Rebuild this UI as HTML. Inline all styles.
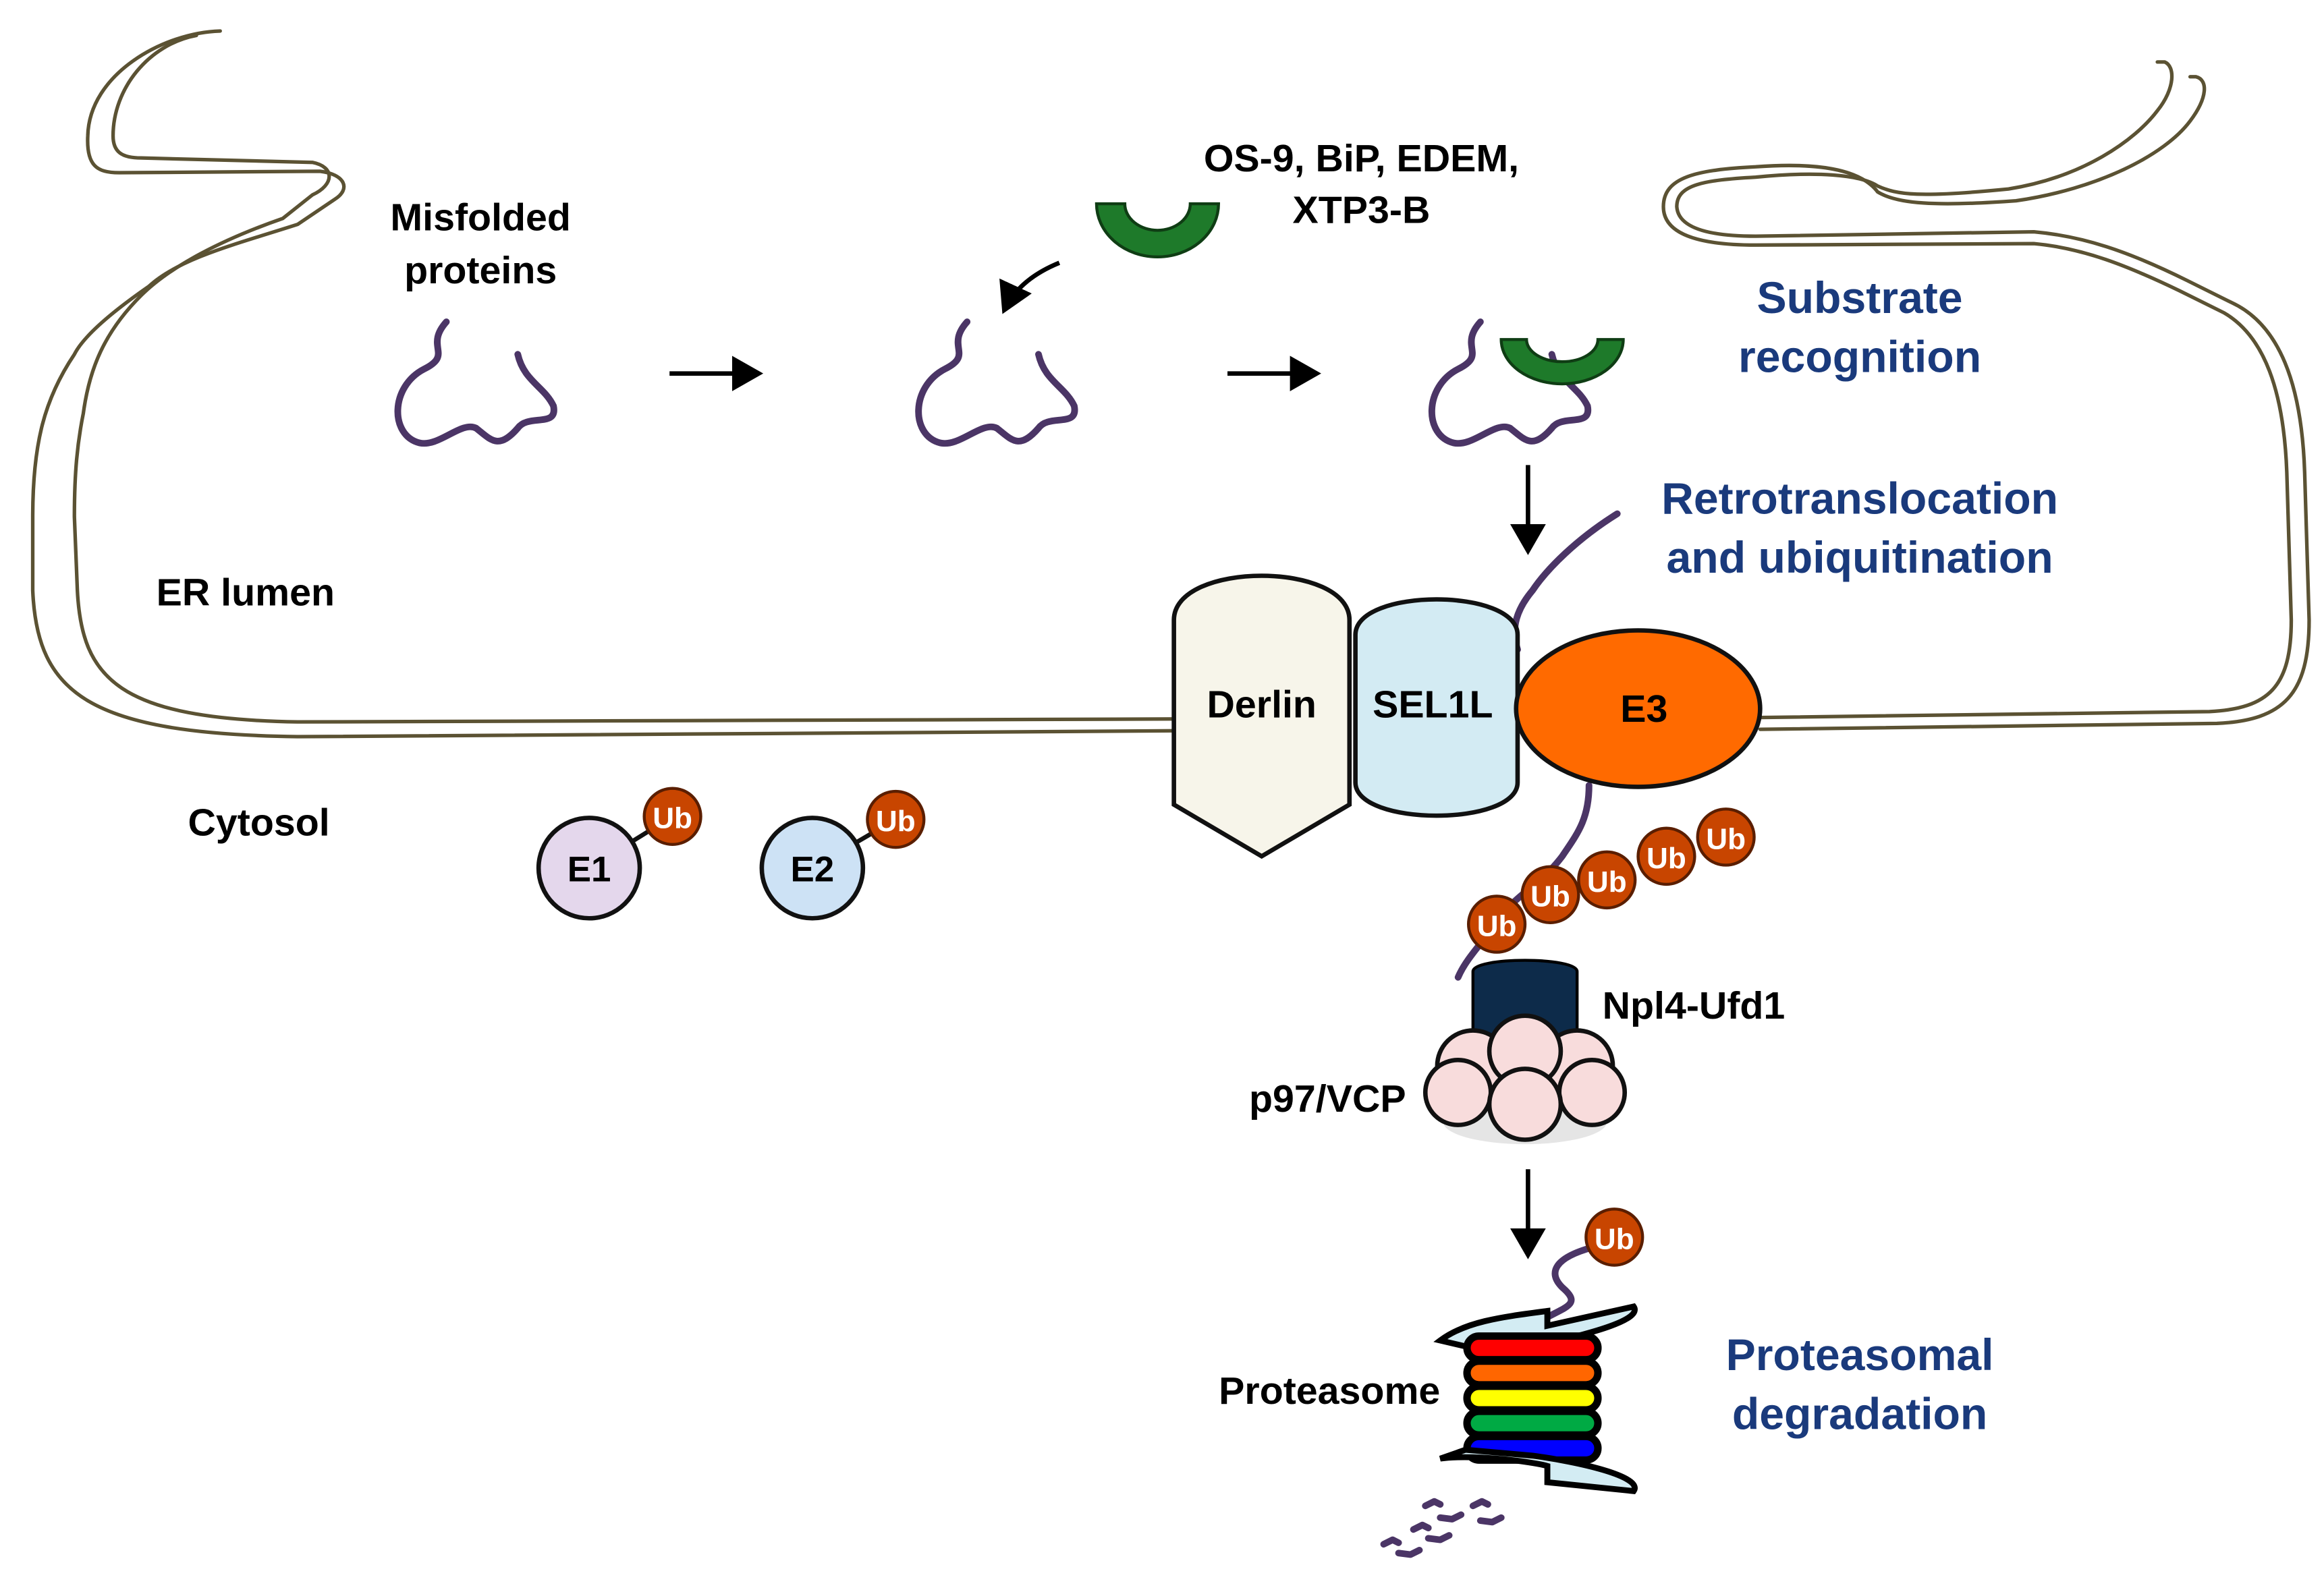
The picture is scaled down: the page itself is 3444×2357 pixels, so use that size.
<!DOCTYPE html>
<html><head><meta charset="utf-8"><style>
html,body{margin:0;padding:0;background:#fff;}
svg{display:block;}
text{font-family:"Liberation Sans",Arial,sans-serif;font-weight:bold;}
</style></head><body>
<svg width="3444" height="2357" viewBox="0 0 1562 1077" preserveAspectRatio="none" xmlns="http://www.w3.org/2000/svg">
<defs>
<marker id="ah" markerWidth="8" markerHeight="8" refX="6" refY="4" orient="auto" markerUnits="strokeWidth"><path d="M0,0 L7,4 L0,8 z" fill="#000"/></marker>
</defs>
<!-- membrane -->
<g fill="none" stroke="#5b5233" stroke-width="2.4" stroke-linecap="round" stroke-linejoin="round">
<path d="M148,21 C110,22 60,50 59,92 C58,112 65,117 80,117 L215,116 C232,118 236,128 225,135 L200,152 C160,165 120,175 100,194 C70,215 55,230 50,240 C30,270 22,300 22,350 L22,400 C25,470 60,497 200,499 L790,495"/>
<path d="M132,24 C100,30 76,60 76,92 C76,103 82,107 95,107 L210,110 C225,113 225,125 210,132 L190,148 C150,162 115,180 95,200 C70,225 60,250 56,280 C52,300 50,320 50,350 L52,400 C55,460 80,487 200,489 L790,487"/>
<path d="M1183,494 L1490,490 C1535,488 1552,470 1552,420 L1549,320 C1547,260 1532,220 1500,205 L1470,190 C1430,170 1400,160 1367,157 L1180,160 C1150,160 1128,155 1127,140 C1127,125 1145,122 1180,120 C1220,116 1250,118 1262,126 C1275,132 1290,134 1350,128 C1400,120 1435,95 1450,75 C1462,60 1462,45 1455,42 L1450,42"/>
<path d="M1183,486 L1485,482 C1525,480 1540,465 1540,420 L1537,320 C1535,265 1522,228 1495,212 L1465,197 C1430,180 1400,168 1367,165 L1180,166 C1140,166 1118,158 1118,140 C1118,120 1140,115 1180,113 C1220,110 1250,114 1262,130 C1275,138 1300,140 1355,136 C1410,128 1455,105 1472,82 C1484,66 1484,54 1476,52 L1472,52"/>
</g>
<!-- labels -->
<text x="323" y="156" font-size="26" text-anchor="middle">Misfolded</text>
<text x="323" y="192" font-size="26" text-anchor="middle">proteins</text>
<text x="915" y="116" font-size="26" text-anchor="middle">OS-9, BiP, EDEM,</text>
<text x="915" y="151" font-size="26" text-anchor="middle">XTP3-B</text>
<text x="165" y="410" font-size="26" text-anchor="middle">ER lumen</text>
<text x="174" y="566" font-size="26" text-anchor="middle">Cytosol</text>
<g fill="#1a3a7c" font-size="30" text-anchor="middle">
<text x="1250" y="212">Substrate</text>
<text x="1250" y="252">recognition</text>
<text x="1250" y="348">Retrotranslocation</text>
<text x="1250" y="388">and ubiquitination</text>
<text x="1250" y="928">Proteasomal</text>
<text x="1250" y="968">degradation</text>
</g>
<!-- misfolded squiggles -->
<g fill="none" stroke="#4b3566" stroke-width="4.5" stroke-linecap="round" stroke-linejoin="round">
<path id="sq" d="M300,218 C285,235 305,240 285,250 C262,262 262,295 282,300 C295,303 310,285 320,290 C330,298 335,305 348,290 C355,280 375,290 372,275 C366,262 352,258 348,240"/>
<use href="#sq" transform="translate(350,0)"/>
<use href="#sq" transform="translate(695,0)"/>
<path d="M1087,348 C1060,365 1040,385 1030,400 C1020,412 1015,425 1020,440"/>
<path d="M1068,532 C1068,555 1060,565 1050,580 C1035,600 1020,605 1010,620 C995,640 985,650 980,662"/>
<path d="M1030,898 C1050,885 1065,885 1050,872 C1040,862 1045,852 1070,845"/>
<path d="M958,1020 l6,-3 l4,2 M968,1028 l8,1 l6,-3 M990,1020 l6,-3 l4,2 M995,1030 l8,1 l6,-3 M950,1036 l6,-3 l4,2 M960,1042 l8,1 l6,-3 M930,1046 l6,-3 l4,2 M940,1052 l8,1 l6,-3"/>
</g>
<!-- arrows -->
<g stroke="#000" stroke-width="3" fill="none">
<line x1="450" y1="253" x2="510" y2="253" marker-end="url(#ah)"/>
<line x1="825" y1="253" x2="885" y2="253" marker-end="url(#ah)"/>
<path d="M712,178 C695,185 682,195 675,210" marker-end="url(#ah)"/>
<line x1="1027" y1="315" x2="1027" y2="373" marker-end="url(#ah)"/>
<line x1="1027" y1="792" x2="1027" y2="850" marker-end="url(#ah)"/>
</g>
<!-- green cups -->
<path d="M737,138 A41,36 0 0 0 819,138 L800,138 A22,18 0 0 1 756,138 Z" fill="#1e7a2a" stroke="#0f3d14" stroke-width="2"/>
<path d="M1009,230 A41,30 0 0 0 1091,230 L1074,230 A24,15 0 0 1 1026,230 Z" fill="#1e7a2a" stroke="#0f3d14" stroke-width="2"/>
<!-- Derlin -->
<path d="M789,420 C789,380 907,380 907,420 L907,545 L848,580 L789,545 Z" fill="#f7f5ea" stroke="#111" stroke-width="3"/>
<text x="848" y="486" font-size="26" text-anchor="middle">Derlin</text>
<!-- SEL1L -->
<path d="M911,430 C911,398 1020,398 1020,430 L1020,530 C1020,560 911,560 911,530 Z" fill="#d3ebf3" stroke="#111" stroke-width="3"/>
<text x="963" y="486" font-size="26" text-anchor="middle">SEL1L</text>
<!-- E3 -->
<ellipse cx="1101" cy="480" rx="82" ry="53" fill="#ff6a00" stroke="#111" stroke-width="3"/>
<text x="1105" y="489" font-size="26" text-anchor="middle">E3</text>
<!-- E1 E2 -->
<line x1="396" y1="588" x2="452" y2="553" stroke="#111" stroke-width="3"/>
<line x1="546" y1="588" x2="602" y2="555" stroke="#111" stroke-width="3"/>
<circle cx="396" cy="588" r="34" fill="#e4d7ec" stroke="#111" stroke-width="3"/>
<circle cx="546" cy="588" r="34" fill="#cde2f5" stroke="#111" stroke-width="3"/>
<text x="396" y="597" font-size="24" text-anchor="middle">E1</text>
<text x="546" y="597" font-size="24" text-anchor="middle">E2</text>
<g font-size="20" fill="#fff" text-anchor="middle">
<circle cx="452" cy="553" r="19" fill="#c84500" stroke="#5a1e00" stroke-width="2"/><text x="452" y="561">Ub</text>
<circle cx="602" cy="555" r="19" fill="#c84500" stroke="#5a1e00" stroke-width="2"/><text x="602" y="563">Ub</text>
<circle cx="1160" cy="567" r="19" fill="#c84500" stroke="#5a1e00" stroke-width="2"/><text x="1160" y="575">Ub</text>
<circle cx="1120" cy="580" r="19" fill="#c84500" stroke="#5a1e00" stroke-width="2"/><text x="1120" y="588">Ub</text>
<circle cx="1080" cy="596" r="19" fill="#c84500" stroke="#5a1e00" stroke-width="2"/><text x="1080" y="604">Ub</text>
<circle cx="1042" cy="606" r="19" fill="#c84500" stroke="#5a1e00" stroke-width="2"/><text x="1042" y="614">Ub</text>
<circle cx="1006" cy="626" r="19" fill="#c84500" stroke="#5a1e00" stroke-width="2"/><text x="1006" y="634">Ub</text>
<circle cx="1085" cy="838" r="19" fill="#c84500" stroke="#5a1e00" stroke-width="2"/><text x="1085" y="846">Ub</text>
</g>
<!-- Npl4 / p97 -->
<path d="M990,658 C990,648 1060,648 1060,658 L1060,705 L990,705 Z" fill="#0d2b4a" stroke="#000" stroke-width="2"/>
<ellipse cx="1025" cy="760" rx="55" ry="15" fill="#ccc" opacity="0.5"/>
<g fill="#f8dcdc" stroke="#111" stroke-width="3">
<circle cx="990" cy="722" r="24"/><circle cx="1060" cy="722" r="24"/>
<circle cx="1025" cy="712" r="24"/>
<circle cx="980" cy="740" r="22"/><circle cx="1070" cy="740" r="22"/>
<circle cx="1025" cy="748" r="24"/>
</g>
<text x="1077" y="690" font-size="26">Npl4-Ufd1</text>
<text x="945" y="753" font-size="26" text-anchor="end">p97/VCP</text>
<!-- proteasome -->
<path d="M968,908 C985,895 1010,892 1040,888 L1040,898 L1098,885 C1105,895 1060,905 1040,910 L985,912 Z" fill="#d3ecf3" stroke="#000" stroke-width="4"/>
<g stroke="#000" stroke-width="5">
<rect x="986" y="905" width="88" height="16" rx="8" fill="#f00"/>
<rect x="986" y="922" width="88" height="16" rx="8" fill="#f60"/>
<rect x="986" y="939" width="88" height="16" rx="8" fill="#ff0"/>
<rect x="986" y="956" width="88" height="16" rx="8" fill="#0a4"/>
<rect x="986" y="973" width="88" height="16" rx="8" fill="#00f"/>
</g>
<path d="M968,988 C990,985 1030,990 1040,993 L1040,1004 L1098,1010 C1105,1000 1060,990 1030,986 L985,982 Z" fill="#d3ecf3" stroke="#000" stroke-width="4"/>
<text x="968" y="951" font-size="26" text-anchor="end">Proteasome</text>
</svg>
</body></html>
